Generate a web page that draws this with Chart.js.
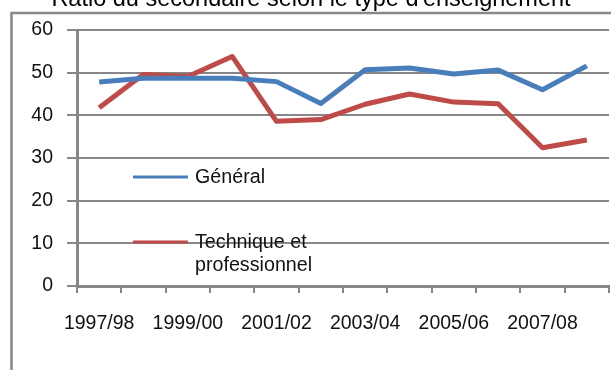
<!DOCTYPE html>
<html>
<head>
<meta charset="utf-8">
<script src="https://cdn.jsdelivr.net/npm/chart.js@4.4.0/dist/chart.umd.min.js"></script>
<style>
  html, body { margin: 0; padding: 0; background: #fff; }
  #wrap { position: relative; width: 611px; height: 370px; }
</style>
</head>
<body>
<div id="wrap"><canvas id="ratioChart" width="611" height="370"></canvas></div>
<script>
// Ratio du secondaire, par année scolaire
const annees = ['1997/98', '1998/99', '1999/00', '2000/01', '2001/02', '2002/03',
                '2003/04', '2004/05', '2005/06', '2006/07', '2007/08', '2008/09'];
const general = [47.8, 48.7, 48.7, 48.7, 47.9, 42.8, 50.7, 51.1, 49.7, 50.6, 46.0, 51.6];
const technique = [41.8, 49.6, 49.1, 53.8, 38.6, 39.0, 42.6, 45.0, 43.1, 42.7, 32.4, 34.2];
const yTicks = [0, 10, 20, 30, 40, 50, 60];

const TITRE = "Ratio du secondaire selon le type d'enseignement";
const FONT = '"Liberation Sans", Arial, sans-serif';
const GRIS = '#878787';

// cadre, titre et légende dessinés à la main
const decorPlugin = {
    id: 'decor',
    beforeDraw(chart) {
        const ctx = chart.ctx;
        ctx.save();
        ctx.strokeStyle = GRIS;
        ctx.lineWidth = 2.5;
        ctx.beginPath();
        ctx.moveTo(11.5, 375);
        ctx.lineTo(11.5, 13);
        ctx.lineTo(620, 13);
        ctx.stroke();

        ctx.fillStyle = '#000';
        ctx.font = '23.5px ' + FONT;
        ctx.textAlign = 'center';
        ctx.textBaseline = 'alphabetic';
        ctx.fillText(TITRE, 311, 6);
        ctx.restore();
    },
    afterDatasetsDraw(chart) {
        const ctx = chart.ctx;
        const items = [
            { ds: chart.data.datasets[0], y: 177 },
            { ds: chart.data.datasets[1], y: 242 }
        ];
        ctx.save();
        ctx.font = '19.7px ' + FONT;
        ctx.textAlign = 'left';
        ctx.textBaseline = 'middle';
        items.forEach(it => {
            ctx.strokeStyle = it.ds.borderColor;
            ctx.lineWidth = 3;
            ctx.beginPath();
            ctx.moveTo(133, it.y);
            ctx.lineTo(188, it.y);
            ctx.stroke();
            ctx.fillStyle = '#111';
            const lines = Array.isArray(it.ds.label) ? it.ds.label : [it.ds.label];
            lines.forEach((l, i) => ctx.fillText(l, 195, it.y + 1 + i * 23));
        });
        ctx.restore();
    }
};

const ctx = document.getElementById('ratioChart').getContext('2d');
new Chart(ctx, {
    type: 'line',
    data: {
        labels: annees,
        datasets: [{
            label: 'Général',
            data: general,
            borderColor: '#4A7EBB',
            borderWidth: 5,
            borderJoinStyle: 'round',
            pointRadius: 0,
            tension: 0
        }, {
            label: ['Technique et', 'professionnel'],
            data: technique,
            borderColor: '#BE4B48',
            borderWidth: 5,
            borderJoinStyle: 'round',
            pointRadius: 0,
            tension: 0
        }]
    },
    options: {
        responsive: false,
        animation: false,
        layout: { padding: { left: 0, right: 2, top: 30, bottom: 0 } },
        plugins: {
            legend: { display: false },
            title: { display: false },
            tooltip: { enabled: false }
        },
        scales: {
            x: {
                offset: true,
                afterFit: s => { s.height = 84; },
                grid: {
                    offset: true,
                    drawOnChartArea: false,
                    drawTicks: true,
                    tickLength: 7,
                    color: GRIS,
                    lineWidth: 2
                },
                border: { color: GRIS, width: 3 },
                ticks: {
                    autoSkip: false,
                    maxRotation: 0,
                    padding: 19,
                    color: '#111',
                    font: { family: FONT, size: 19.5 },
                    callback: function (v, i) { return i % 2 === 0 ? annees[i] : ''; }
                }
            },
            y: {
                min: 0,
                max: 60,
                afterFit: s => { s.width = 77; },
                afterBuildTicks: s => { s.ticks = yTicks.map(v => ({ value: v })); },
                grid: {
                    color: GRIS,
                    lineWidth: 2,
                    tickLength: 10
                },
                border: { color: GRIS, width: 3 },
                ticks: {
                    padding: 14,
                    color: '#111',
                    font: { family: FONT, size: 19.5 }
                }
            }
        }
    },
    plugins: [decorPlugin]
});
</script>
</body>
</html>
